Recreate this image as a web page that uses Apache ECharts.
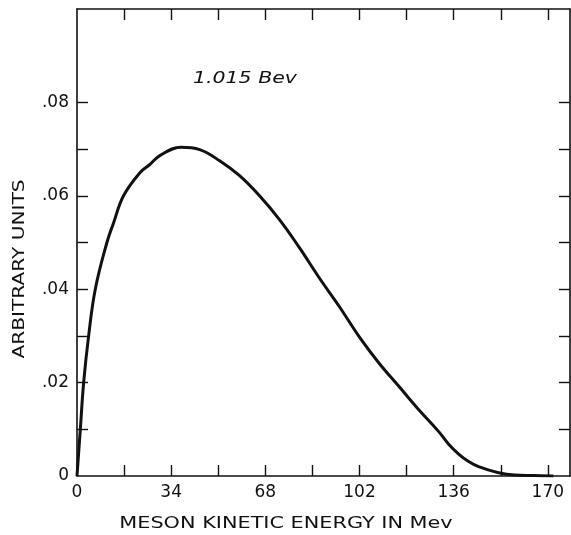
<!DOCTYPE html>
<html>
<head>
<meta charset="utf-8">
<script src="https://cdn.jsdelivr.net/npm/echarts@6/dist/echarts.min.js"></script>
<style>
html,body{margin:0;padding:0;background:#fff;}
#chart{width:571px;height:535px;}
</style>
</head>
<body>
<div id="chart"></div>
<script>
// Data
var energy = [0, 1.2, 2.4, 4.2, 6.6, 10.8, 13.2, 16.8, 22.8, 26.3, 29.9, 37.5, 44.3, 51.5, 58.7, 65.9, 73.1, 80.3, 87.5, 94.7, 101.8, 109, 116.2, 123.4, 130.6, 134.2, 137.8, 141.4, 145, 152.2, 158, 165, 172];
var intensity = [0, 0.010, 0.020, 0.030, 0.040, 0.050, 0.0542, 0.060, 0.065, 0.0667, 0.0686, 0.0704, 0.0699, 0.0675, 0.0643, 0.060, 0.0549, 0.0489, 0.0424, 0.0363, 0.0299, 0.0242, 0.0192, 0.0142, 0.0095, 0.0068, 0.0047, 0.0031, 0.0020, 0.0007, 0.0002, 0.0001, 0];

var xTickValues = [0, 34, 68, 102, 136, 170];
var xTickLabels = ['0', '34', '68', '102', '136', '170'];
var xMinorTicks = [17, 34, 51, 68, 85, 102, 119, 136, 153, 170];
var yTickValues = [0, 0.02, 0.04, 0.06, 0.08];
var yTickLabels = ['0', '.02', '.04', '.06', '.08'];
var yMinorTicks = [0.01, 0.02, 0.03, 0.04, 0.05, 0.06, 0.07, 0.08];

var xTitle = 'MESON KINETIC ENERGY IN Mev';
var yTitle = 'ARBITRARY UNITS';
var curveLabel = '1.015 Bev';

var ink = '#111';
var fontFam = 'DejaVu Sans';

function labelFor(values, labels) {
  return function (v) {
    for (var i = 0; i < values.length; i++) {
      if (Math.abs(values[i] - v) < 1e-9) return labels[i];
    }
    return '';
  };
}

var chart = echarts.init(document.getElementById('chart'), null, {renderer: 'canvas'});

var axisLineStyle = {color: ink, width: 1.6};

var option = {
  backgroundColor: '#fff',
  animation: false,
  grid: {left: 77, right: 1, top: 9, bottom: 59, containLabel: false},
  xAxis: [{
    type: 'value', position: 'bottom', min: 0, max: 178,
    axisLine: {show: true, onZero: false, lineStyle: axisLineStyle},
    axisTick: {show: true, inside: true, length: 11, customValues: xMinorTicks, lineStyle: {color: ink, width: 1.4}},
    axisLabel: {show: true, customValues: xTickValues, formatter: labelFor(xTickValues, xTickLabels),
      color: ink, fontSize: 17, fontFamily: fontFam, margin: 8},
    splitLine: {show: false}
  }, {
    type: 'value', position: 'top', min: 0, max: 178,
    axisLine: {show: true, onZero: false, lineStyle: axisLineStyle},
    axisTick: {show: true, inside: true, length: 11, customValues: xMinorTicks, lineStyle: {color: ink, width: 1.4}},
    axisLabel: {show: false},
    splitLine: {show: false}
  }],
  yAxis: [{
    type: 'value', position: 'left', min: 0, max: 0.1,
    axisLine: {show: true, onZero: false, lineStyle: axisLineStyle},
    axisTick: {show: true, inside: true, length: 11, customValues: yMinorTicks, lineStyle: {color: ink, width: 1.4}},
    axisLabel: {show: true, customValues: yTickValues, formatter: labelFor(yTickValues, yTickLabels),
      color: ink, fontSize: 17, fontFamily: fontFam, margin: 8},
    splitLine: {show: false}
  }, {
    type: 'value', position: 'right', min: 0, max: 0.1,
    axisLine: {show: true, onZero: false, lineStyle: axisLineStyle},
    axisTick: {show: true, inside: true, length: 11, customValues: yMinorTicks, lineStyle: {color: ink, width: 1.4}},
    axisLabel: {show: false},
    splitLine: {show: false}
  }],
  graphic: [{
    type: 'text', x: 286, y: 524, scaleX: 1.3, silent: true,
    style: {text: xTitle, fill: ink, font: '16px "DejaVu Sans"', align: 'center', verticalAlign: 'middle', textAlign: 'center', textVerticalAlign: 'middle'}
  }, {
    type: 'text', x: 20, y: 269, rotation: Math.PI / 2, scaleX: 1.26, silent: true,
    style: {text: yTitle, fill: ink, font: '16px "DejaVu Sans"', align: 'center', verticalAlign: 'middle', textAlign: 'center', textVerticalAlign: 'middle'}
  }, {
    type: 'text', x: 193, y: 79, scaleX: 1.28, silent: true,
    style: {text: curveLabel, fill: ink, font: 'italic 16px "DejaVu Sans"', align: 'left', verticalAlign: 'middle', textAlign: 'left', textVerticalAlign: 'middle'}
  }],
  series: [{
    type: 'line',
    xAxisIndex: 0, yAxisIndex: 0,
    data: energy.map(function (e, i) { return [e, intensity[i]]; }),
    showSymbol: false,
    smooth: 0.4,
    lineStyle: {color: ink, width: 3},
    z: 3
  }]
};
chart.setOption(option);
</script>
</body>
</html>
